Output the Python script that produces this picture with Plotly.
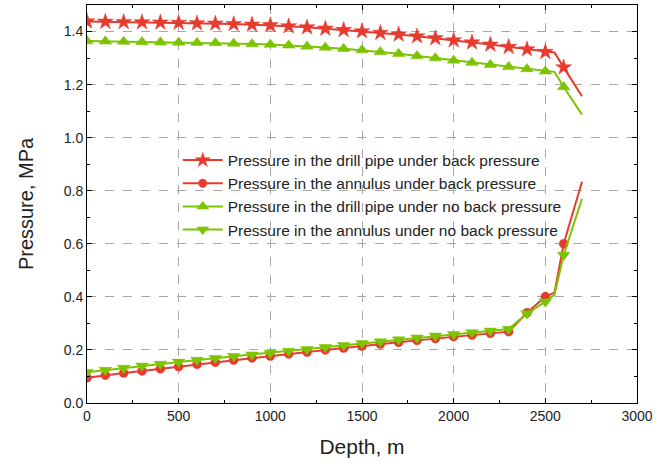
import plotly.graph_objects as go

depth = [0, 100, 200, 300, 400, 500, 600, 700, 800, 900, 1000, 1100, 1200, 1300,
         1400, 1500, 1600, 1700, 1800, 1900, 2000, 2100, 2200, 2300, 2400, 2500,
         2550, 2600, 2700]
# marker shown (1) or hidden (0) at each depth point
shown = [1]*26 + [0, 1, 0]

dp_bp = [1.438, 1.437, 1.436, 1.435, 1.434, 1.433, 1.431, 1.430, 1.428, 1.426, 1.424,
         1.420, 1.416, 1.411, 1.406, 1.401, 1.395, 1.389, 1.382, 1.375, 1.367, 1.359,
         1.351, 1.342, 1.333, 1.323, 1.321, 1.265, 1.156]
an_bp = [0.095, 0.105, 0.113, 0.121, 0.129, 0.137, 0.146, 0.154, 0.162, 0.170, 0.177,
         0.185, 0.192, 0.200, 0.207, 0.215, 0.222, 0.229, 0.236, 0.243, 0.250, 0.256,
         0.263, 0.269, 0.340, 0.401, 0.416, 0.600, 0.834]
dp_nbp = [1.364, 1.363, 1.362, 1.361, 1.360, 1.359, 1.358, 1.357, 1.355, 1.353, 1.351,
          1.348, 1.344, 1.340, 1.335, 1.330, 1.323, 1.316, 1.308, 1.300, 1.291, 1.283,
          1.275, 1.267, 1.259, 1.250, 1.248, 1.191, 1.087]
an_nbp = [0.116, 0.124, 0.132, 0.140, 0.147, 0.155, 0.162, 0.169, 0.176, 0.182, 0.188,
          0.196, 0.203, 0.210, 0.218, 0.225, 0.232, 0.239, 0.246, 0.253, 0.259, 0.266,
          0.272, 0.279, 0.337, 0.382, 0.408, 0.558, 0.770]

names = ["Pressure in the drill pipe under back pressure",
         "Pressure in the annulus under back pressure",
         "Pressure in the drill pipe under no back pressure",
         "Pressure in the annulus under no back pressure"]

RED = "#e63b2e"
GREEN = "#7dc400"
FONT = "Arial, Liberation Sans, Helvetica, sans-serif"

series = [
    (dp_bp, RED, "star", 12),
    (an_bp, RED, "circle", 9),
    (dp_nbp, GREEN, "triangle-up", 11),
    (an_nbp, GREEN, "triangle-down", 11),
]

fig = go.Figure()
for (vals, col, sym, sz), nm in zip(series, names):
    fig.add_trace(go.Scatter(
        x=depth, y=vals, name=nm, mode="lines+markers",
        line=dict(color=col, width=2),
        marker=dict(symbol=sym, size=[sz * s for s in shown], color=col,
                    opacity=1, line=dict(width=0.5, color=col)),
    ))

axis_common = dict(
    showline=True, linecolor="black", linewidth=1, mirror="ticks",
    ticks="inside", ticklen=5, tickcolor="black",
    showgrid=True, gridcolor="#a8a8a8", griddash="dash", gridwidth=1,
    zeroline=False,
    tickfont=dict(family=FONT, size=14, color="#222"),
    minor=dict(ticks="inside", ticklen=3, tickcolor="black", showgrid=False),
)

fig.update_xaxes(range=[0, 3000], dtick=500, tick0=0,
                 title=dict(text="Depth, m", font=dict(family=FONT, size=21, color="#222"), standoff=16),
                 **axis_common)
fig.update_yaxes(range=[0, 1.5], dtick=0.2, tick0=0, tickformat=".1f",
                 title=dict(text="Pressure, MPa", font=dict(family=FONT, size=20, color="#222"), standoff=24),
                 **axis_common)
fig.update_xaxes(minor=dict(dtick=250))
fig.update_yaxes(minor=dict(dtick=0.1))

fig.update_layout(
    width=664, height=464,
    margin=dict(l=87, r=27, t=5, b=61),
    plot_bgcolor="white", paper_bgcolor="white",
    legend=dict(x=0.165, y=0.652, xanchor="left", yanchor="top",
                bgcolor="rgba(0,0,0,0)",
                font=dict(family=FONT, size=15.5, color="#222"),
                itemwidth=40, tracegroupgap=0),
    showlegend=True,
)

fig.write_html("out.html")
